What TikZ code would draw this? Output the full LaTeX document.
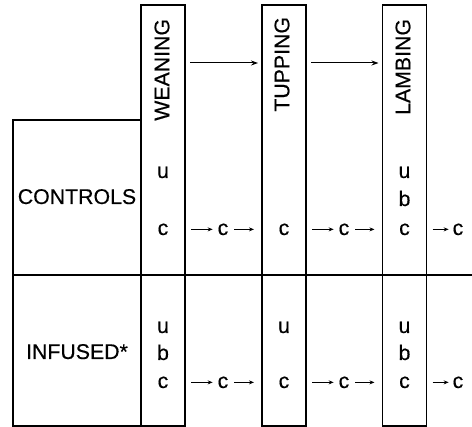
\documentclass[tikz,border=0pt]{standalone}
\usepackage{fontspec}
\setmainfont{Liberation Sans}[FakeBold=0.4]
\usetikzlibrary{arrows.meta}
\begin{document}
\begin{tikzpicture}[x=1pt,y=-1pt,
  frame/.style={draw, line width=1.2pt, inner sep=0pt, outer sep=0pt},
  col/.style={frame, minimum width=44pt, minimum height=421pt, anchor=north},
  lbl/.style={font=\fontsize{21.3}{22}\selectfont, inner sep=0pt, outer sep=0pt},
  vlbl/.style={lbl, rotate=90, anchor=east},
  ltr/.style={lbl, anchor=base},
  bigarr/.style={-{Stealth[length=7pt,width=5pt]}, line width=1pt},
  smarr/.style={-{Stealth[length=5pt,width=4pt]}, line width=0.9pt}]
\useasboundingbox (0,0) rectangle (472,427);
% columns
\node[col] (wcol) at (163,5) {};
\node[col] (tcol) at (284,5) {};
\node[col] (lcol) at (404.5,5) {};
\node[frame, minimum width=128pt, minimum height=306pt, anchor=north west] (lbox) at (13,120) {};
\coordinate (hend) at (472,275);
\draw[line width=1.2pt] (lbox.west |- hend) -- (hend);
% column headings
\node[vlbl] (wl) at (162,19) {WEANING};
\node[vlbl] (tl) at (282,17) {TUPPING};
\node[vlbl] (ll) at (403,19) {LAMBING};
\draw[bigarr] ([xshift=5pt]wcol.east |- 0,63) -- ([xshift=-4pt]tcol.west |- 0,63);
\draw[bigarr] ([xshift=5pt]tcol.east |- 0,63) -- ([xshift=-4pt]lcol.west |- 0,63);
% row labels
\node[ltr] (ctl) at (77,204) {CONTROLS};
\node[ltr] (inf) at (77,359) {INFUSED*};
% controls row
\node[ltr] (wcu) at (163,178) {u};
\node[ltr] (wcc) at (163,235) {c};
\node[ltr] (tcc) at (284,235) {c};
\node[ltr] (lcu) at (404.5,178) {u};
\node[ltr] (lcb) at (404.5,206) {b};
\node[ltr] (lcc) at (404.5,235) {c};
\node[ltr] (mc1) at (223,235) {c};
\node[ltr] (mc2) at (344,235) {c};
\node[ltr] (mc3) at (458,235) {c};
% infused row
\node[ltr] (wiu) at (163,333) {u};
\node[ltr] (wib) at (163,360) {b};
\node[ltr] (wic) at (163,388) {c};
\node[ltr] (tiu) at (284,333) {u};
\node[ltr] (tic) at (284,388) {c};
\node[ltr] (liu) at (404.5,333) {u};
\node[ltr] (lib) at (404.5,360) {b};
\node[ltr] (lic) at (404.5,388) {c};
\node[ltr] (mi1) at (223,388) {c};
\node[ltr] (mi2) at (344,388) {c};
\node[ltr] (mi3) at (458,388) {c};
% small arrows
\foreach \m/\a/\b in {mc1/wcol/tcol, mc2/tcol/lcol, mi1/wcol/tcol, mi2/tcol/lcol}{
  \draw[smarr] ([xshift=6pt]\a.east |- \m.west) -- ([xshift=-5pt]\m.west);
  \draw[smarr] ([xshift=6pt]\m.east) -- ([xshift=-8pt]\b.west |- \m.east);
}
\foreach \m in {mc3, mi3}{
  \draw[smarr] ([xshift=6pt]lcol.east |- \m.west) -- ([xshift=-4pt]\m.west);
}
\end{tikzpicture}
\end{document}
